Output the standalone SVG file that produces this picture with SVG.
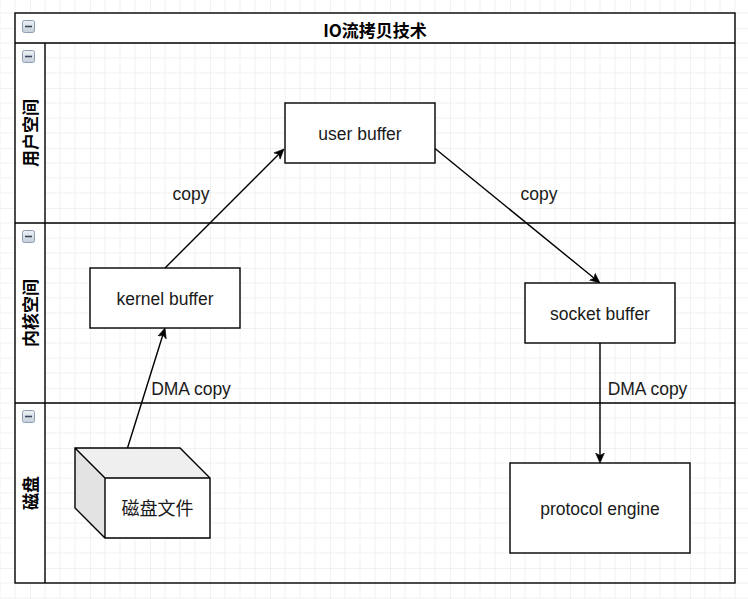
<svg xmlns="http://www.w3.org/2000/svg" width="748" height="599" viewBox="0 0 748 599">
  <defs>
    <pattern id="grid" patternUnits="userSpaceOnUse" x="30" y="28" width="60" height="60">
      <path d="M15 0V60M30 0V60M45 0V60M0 15H60M0 30H60M0 45H60" stroke="#f1f1f1" stroke-width="1" fill="none"/>
      <path d="M0 0V60M0 0H60" stroke="#e4e4e4" stroke-width="1" fill="none"/>
    </pattern>
    <linearGradient id="icon" x1="0" y1="0" x2="0" y2="1">
      <stop offset="0" stop-color="#eef2f6"/>
      <stop offset="1" stop-color="#c3cfdb"/>
    </linearGradient>
    <marker id="arrow" viewBox="0 0 10 10" refX="5" refY="5" markerWidth="10" markerHeight="10" markerUnits="userSpaceOnUse" orient="auto">
      <path d="M0,0.6 L10,5 L0,9.4 L2.6,5 Z" fill="#000" stroke="#000" stroke-width="0.6" stroke-linejoin="miter"/>
    </marker>
    <g id="collapse">
      <rect x="0.5" y="0.5" width="12" height="12" rx="2" fill="url(#icon)" stroke="#8e9daf" stroke-width="1"/>
      <path d="M3 6.5H10" stroke="#3b4756" stroke-width="1.6"/>
    </g>
  </defs>
  <style>
    .line { fill: none; stroke: #000; stroke-width: 1.4; }
    .box { fill: #fff; stroke: #000; stroke-width: 1.4; }
    .lbl { font-family: "Liberation Sans", Arial, "Noto Sans CJK SC", sans-serif; font-size: 17.5px; fill: #1a1a1a; text-anchor: middle; }
    .cjk { font-family: "Noto Sans CJK SC", "Liberation Sans", sans-serif; font-size: 18px; fill: #1a1a1a; text-anchor: middle; }
    .head { font-family: "Noto Sans CJK SC", "Liberation Sans", sans-serif; font-size: 17px; font-weight: bold; fill: #000; text-anchor: middle; }
    .conn { fill: none; stroke: #000; stroke-width: 1.4; marker-end: url(#arrow); }
  </style>

  <rect x="0" y="0" width="748" height="599" fill="#fff"/>
  <rect x="0" y="0" width="748" height="599" fill="url(#grid)"/>

  <g id="pool">
    <rect x="15" y="13" width="720" height="30" fill="#fff"/>
    <rect x="15" y="43" width="30" height="540" fill="#fff"/>
    <rect x="15" y="13" width="720" height="570" class="line"/>
    <path d="M15 43H735M45 43V583" class="line"/>
    <use href="#collapse" x="22" y="20"/>
    <text x="375" y="37" class="head">IO流拷贝技术</text>
  </g>

  <g id="lane-user">
    <use href="#collapse" x="22" y="50"/>
    <text class="head" transform="translate(37 133) rotate(-90)" x="0" y="0">用户空间</text>
  </g>
  <g id="lane-kernel">
    <path d="M15 223H735" class="line"/>
    <use href="#collapse" x="22" y="230"/>
    <text class="head" transform="translate(37 313) rotate(-90)" x="0" y="0">内核空间</text>
  </g>
  <g id="lane-disk">
    <path d="M15 403H735" class="line"/>
    <use href="#collapse" x="22" y="410"/>
    <text class="head" transform="translate(37 493) rotate(-90)" x="0" y="0">磁盘</text>
  </g>

  <g id="user-buffer">
    <rect x="285" y="103" width="150" height="60" class="box"/>
    <text x="360" y="140" class="lbl">user buffer</text>
  </g>
  <g id="kernel-buffer">
    <rect x="90" y="268" width="150" height="60" class="box"/>
    <text x="165" y="305" class="lbl">kernel buffer</text>
  </g>
  <g id="socket-buffer">
    <rect x="525" y="283" width="150" height="60" class="box"/>
    <text x="600" y="320" class="lbl">socket buffer</text>
  </g>
  <g id="protocol-engine">
    <rect x="510" y="463" width="180" height="90" class="box"/>
    <text x="600" y="515" class="lbl">protocol engine</text>
  </g>
  <g id="disk-file">
    <path d="M75 448H180L210 478H105Z" fill="#efefef" stroke="none"/>
    <path d="M75 448L105 478V538L75 508Z" fill="#e3e3e3" stroke="none"/>
    <rect x="105" y="478" width="105" height="60" fill="#fff" stroke="none"/>
    <path d="M75 448H180L210 478V538H105L75 508Z M75 448L105 478H210 M105 478V538" class="line" stroke-linejoin="miter"/>
    <text x="157.5" y="515" class="cjk">磁盘文件</text>
  </g>

  <g id="connectors">
    <path d="M165 268L280.5 152.5" class="conn"/>
    <path d="M435 148.5L596.1 279.8" class="conn"/>
    <path d="M127.5 448L163.5 332.8" class="conn"/>
    <path d="M600 343V458" class="conn"/>
    <text x="191" y="200" class="lbl">copy</text>
    <text x="539" y="200" class="lbl">copy</text>
    <text x="191" y="395" class="lbl">DMA copy</text>
    <text x="647.5" y="395" class="lbl">DMA copy</text>
  </g>
</svg>
